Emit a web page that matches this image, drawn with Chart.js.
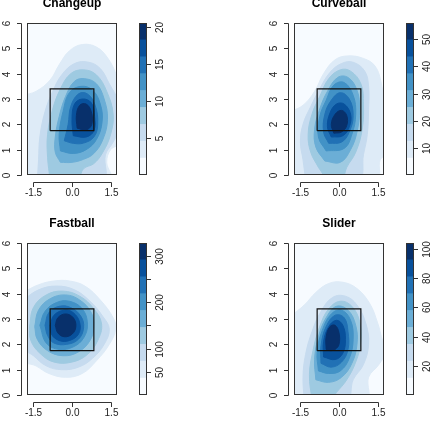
<!DOCTYPE html>
<html>
<head>
<meta charset="utf-8">
<script src="https://cdn.jsdelivr.net/npm/chart.js@4.4.0/dist/chart.umd.min.js"></script>
<style>
html, body { margin: 0; padding: 0; background: #fff; }
#wrap { position: relative; width: 440px; height: 426px; overflow: hidden; }
canvas { position: absolute; }
</style>
</head>
<body>
<div id="wrap"></div>
<script>
// pitch types, one panel each
var pitchNames = ['Changeup', 'Curveball', 'Fastball', 'Slider'];

// colour per density band (lowest first)
var blues = ['#F7FBFF', '#DEEBF7', '#C6DBEF', '#9ECAE1', '#6BAED6', '#4292C6', '#2171B5', '#08519C', '#08306B'];

// density band edges
var changeupLevels = [0, 2.28, 4.56, 6.83, 9.11, 11.39, 13.67, 15.94, 18.22, 20.5];
var curveballLevels = [0, 6.22, 12.44, 18.67, 24.89, 31.11, 37.33, 43.56, 49.78, 56];
var fastballLevels = [0, 36.3, 72.7, 109, 145.3, 181.7, 218, 254.3, 290.7, 327];
var sliderLevels = [0, 11.56, 23.11, 34.67, 46.22, 57.78, 69.33, 80.89, 92.44, 104];

// colour key ticks
var changeupTicks = [5, 10, 15, 20];
var changeupTickLabels = ['5', '10', '15', '20'];
var curveballTicks = [10, 20, 30, 40, 50];
var curveballTickLabels = ['10', '20', '30', '40', '50'];
var fastballTicks = [50, 100, 150, 200, 250, 300];
var fastballTickLabels = ['50', '100', '', '200', '', '300'];
var sliderTicks = [20, 40, 60, 80, 100];
var sliderTickLabels = ['20', '40', '60', '80', '100'];

// plate location axes
var xTicks = [-1.5, 0, 1.5];
var xTickLabels = ['-1.5', '0.0', '1.5'];
var yTicks = [0, 1, 2, 3, 4, 5, 6];
var yTickLabels = ['0', '1', '2', '3', '4', '5', '6'];

// strike zone corners (feet)
var zoneX = [-0.85, 0.85];
var zoneY = [1.75, 3.4];

// contour outlines, band 1 (outer) to band 8 (core), as x,y pairs
var changeupContours = [
  [-1.9,3.15, -1.4,3.3, -0.85,3.75, -0.5,4.35, -0.1,4.9, 0.4,5.15, 0.95,5.05, 1.4,4.6, 1.75,3.9, 1.9,3.4, 1.9,1.3, 1.5,1.0, 1.35,0.5, 1.5,-0.2, -1.9,-0.2],
  [-1.35,-0.2, -1.3,0.6, -1.25,1.5, -1.05,2.5, -0.75,3.3, -0.4,3.95, 0.1,4.4, 0.65,4.45, 1.1,4.2, 1.45,3.6, 1.8,2.9, 1.9,2.0, 1.6,1.3, 1.3,0.8, 1.2,-0.2],
  [-0.85,-0.2, -0.95,0.7, -0.95,1.6, -0.75,2.6, -0.45,3.4, -0.05,4.0, 0.45,4.15, 0.95,3.95, 1.35,3.3, 1.6,2.4, 1.5,1.6, 1.2,0.9, 0.85,0.45, 0.45,0.25, 0.2,-0.2],
  [-0.45,0.5, -0.65,0.9, -0.65,1.5, -0.5,2.3, -0.25,3.1, 0.1,3.7, 0.5,3.8, 0.95,3.6, 1.25,3.0, 1.38,2.2, 1.2,1.4, 0.85,0.85, 0.45,0.62, 0.0,0.5],
  [-0.45,0.95, -0.5,1.6, -0.35,2.5, -0.1,3.25, 0.35,3.5, 0.8,3.35, 1.1,2.8, 1.17,2.1, 0.95,1.4, 0.55,1.0, 0.05,0.85],
  [-0.3,1.35, -0.15,2.0, -0.05,2.7, 0.25,3.2, 0.6,3.2, 0.9,2.75, 1.0,2.0, 0.85,1.5, 0.45,1.26, 0.05,1.25],
  [0.05,1.55, 0.0,2.2, 0.1,2.8, 0.4,3.0, 0.75,2.85, 0.88,2.3, 0.85,1.75, 0.55,1.5],
  [0.2,1.85, 0.17,2.35, 0.3,2.75, 0.55,2.8, 0.75,2.5, 0.77,2.0, 0.55,1.78]
];
var curveballContours = [
  [-1.9,2.5, -1.4,2.75, -0.95,3.3, -0.6,4.0, -0.15,4.55, 0.35,4.7, 0.95,4.6, 1.4,4.3, 1.65,3.6, 1.75,2.8, 1.9,2.0, 1.9,0.9, 1.6,0.6, 1.45,-0.2, -1.9,-0.2],
  [-1.3,-0.2, -1.4,0.6, -1.5,1.3, -1.4,2.0, -1.1,2.7, -0.75,3.4, -0.35,4.05, 0.1,4.4, 0.55,4.45, 1.0,4.1, 1.15,3.5, 1.15,2.6, 1.1,1.6, 0.95,0.8, 0.75,-0.2],
  [-0.8,0.3, -1.1,0.9, -1.2,1.6, -1.05,2.4, -0.75,3.1, -0.4,3.8, 0.05,4.15, 0.45,4.1, 0.85,3.6, 0.95,2.8, 0.9,1.8, 0.65,0.9, 0.3,0.3, 0.1,-0.2, -0.4,-0.2],
  [-0.55,0.55, -0.9,1.1, -0.95,1.8, -0.75,2.6, -0.45,3.3, -0.05,3.85, 0.35,3.85, 0.7,3.35, 0.8,2.6, 0.7,1.7, 0.45,1.0, 0.05,0.5],
  [-0.5,0.95, -0.8,1.5, -0.75,2.3, -0.5,2.95, -0.2,3.55, 0.2,3.65, 0.55,3.15, 0.65,2.4, 0.5,1.6, 0.2,1.05],
  [-0.4,1.25, -0.6,1.7, -0.55,2.4, -0.3,2.95, 0.05,3.25, 0.4,3.0, 0.55,2.35, 0.4,1.7, 0.1,1.3],
  [-0.3,1.5, -0.45,1.9, -0.35,2.45, -0.1,2.8, 0.2,2.8, 0.45,2.4, 0.4,1.9, 0.15,1.55],
  [-0.2,1.65, -0.3,2.0, -0.15,2.4, 0.1,2.55, 0.3,2.35, 0.3,1.95, 0.1,1.7]
];
var fastballContours = [
  [-1.9,4.05, -1.3,4.35, -0.7,4.5, -0.1,4.5, 0.5,4.3, 1.1,3.75, 1.6,3.05, 1.7,2.6, 1.45,2.0, 0.95,1.35, 0.4,0.85, -0.25,0.7, -0.9,0.85, -1.4,1.15, -1.9,1.4],
  [-1.9,3.75, -1.3,4.15, -0.6,4.3, 0.1,4.15, 0.7,3.7, 1.2,3.1, 1.45,2.6, 1.25,2.0, 0.8,1.45, 0.25,1.1, -0.4,1.0, -1.0,1.15, -1.5,1.55, -1.9,1.9],
  [-1.65,2.7, -1.5,3.45, -1.0,3.95, -0.35,4.1, 0.3,3.9, 0.85,3.4, 1.15,2.8, 1.0,2.15, 0.6,1.6, 0.0,1.3, -0.7,1.3, -1.25,1.65, -1.6,2.15],
  [-1.45,2.7, -1.3,3.35, -0.85,3.8, -0.25,3.95, 0.3,3.75, 0.75,3.25, 0.85,2.7, 0.7,2.15, 0.25,1.7, -0.35,1.55, -0.95,1.75, -1.35,2.2],
  [-1.25,2.75, -1.05,3.3, -0.6,3.65, -0.1,3.7, 0.4,3.4, 0.6,2.8, 0.45,2.25, 0.05,1.9, -0.5,1.8, -1.0,2.05],
  [-1.05,2.75, -0.9,3.25, -0.5,3.5, -0.05,3.45, 0.35,3.1, 0.45,2.65, 0.25,2.2, -0.2,2.0, -0.7,2.05, -0.95,2.35],
  [-0.85,2.75, -0.7,3.15, -0.3,3.35, 0.05,3.25, 0.3,2.85, 0.25,2.4, -0.1,2.15, -0.5,2.15, -0.8,2.4],
  [-0.65,2.75, -0.55,3.05, -0.25,3.2, 0.05,3.05, 0.15,2.7, 0.0,2.4, -0.3,2.3, -0.55,2.45]
];
var sliderContours = [
  [-1.9,3.1, -1.35,3.55, -0.9,4.05, -0.4,4.4, 0.15,4.45, 0.7,4.2, 1.2,3.6, 1.5,2.85, 1.65,2.3, 1.8,1.7, 1.55,1.2, 1.15,0.7, 1.05,-0.2, -1.9,-0.2],
  [-1.35,-0.2, -1.4,0.7, -1.3,1.6, -1.05,2.5, -0.7,3.3, -0.25,3.85, 0.25,3.9, 0.7,3.55, 1.05,2.8, 1.15,2.0, 0.95,1.2, 0.55,0.6, 0.3,-0.2],
  [-1.05,-0.2, -1.15,0.8, -1.0,1.8, -0.75,2.7, -0.4,3.4, 0.05,3.7, 0.5,3.5, 0.8,2.9, 0.85,2.1, 0.65,1.3, 0.3,0.6, -0.1,0.1, -0.35,-0.2],
  [-0.9,0.6, -0.95,1.4, -0.8,2.3, -0.5,3.05, -0.1,3.5, 0.35,3.35, 0.65,2.75, 0.7,2.0, 0.5,1.25, 0.1,0.7, -0.4,0.5],
  [-0.8,0.95, -0.85,1.7, -0.65,2.55, -0.3,3.2, 0.1,3.35, 0.45,2.95, 0.55,2.2, 0.4,1.45, 0.05,0.95, -0.4,0.85],
  [-0.7,1.25, -0.7,1.95, -0.5,2.7, -0.15,3.15, 0.2,3.05, 0.35,2.5, 0.35,1.8, 0.1,1.3, -0.3,1.1],
  [-0.6,1.5, -0.6,2.1, -0.4,2.7, -0.1,2.95, 0.15,2.75, 0.25,2.2, 0.15,1.65, -0.15,1.4],
  [-0.5,1.8, -0.5,2.3, -0.35,2.7, -0.15,2.75, 0.0,2.45, 0.0,2.0, -0.15,1.8, -0.35,1.75]
];

var panels = [
  {name: pitchNames[0], contours: changeupContours, levels: changeupLevels, ticks: changeupTicks, labels: changeupTickLabels},
  {name: pitchNames[1], contours: curveballContours, levels: curveballLevels, ticks: curveballTicks, labels: curveballTickLabels},
  {name: pitchNames[2], contours: fastballContours, levels: fastballLevels, ticks: fastballTicks, labels: fastballTickLabels},
  {name: pitchNames[3], contours: sliderContours, levels: sliderLevels, ticks: sliderTicks, labels: sliderTickLabels}
];

var FONT = "'Liberation Sans', Arial, Helvetica, sans-serif";
var INK = '#222';

// R-like frame: background, box and detached axes
var rFrame = {
  id: 'rFrame',
  beforeDatasetsDraw: function (chart, args, opts) {
    if (!opts.bg) return;
    var a = chart.chartArea, ctx = chart.ctx;
    ctx.save();
    ctx.fillStyle = opts.bg;
    ctx.fillRect(a.left, a.top, a.right - a.left, a.bottom - a.top);
    ctx.restore();
  },
  afterDraw: function (chart, args, opts) {
    var a = chart.chartArea, ctx = chart.ctx;
    ctx.save();
    ctx.strokeStyle = '#333';
    ctx.lineWidth = 1;
    ctx.strokeRect(a.left + 0.5, a.top + 0.5, a.right - a.left - 1, a.bottom - a.top - 1);
    ctx.fillStyle = INK;
    ctx.font = '10px ' + FONT;
    ctx.textAlign = 'center';
    ctx.textBaseline = 'middle';
    (opts.axes || []).forEach(function (ax) {
      var sc = chart.scales[ax.scale];
      var pos = ax.ticks.map(function (v) { return Math.round(sc.getPixelForValue(v)) + 0.5; });
      ctx.beginPath();
      if (ax.side === 'bottom') {
        var ly = a.bottom + 7.5;
        ctx.moveTo(pos[0], ly); ctx.lineTo(pos[pos.length - 1], ly);
        pos.forEach(function (p) { ctx.moveTo(p, ly); ctx.lineTo(p, ly + 4.5); });
        ctx.stroke();
        pos.forEach(function (p, i) { ctx.fillText(ax.labels[i], p, a.bottom + 18.5); });
      } else {
        var left = ax.side === 'left';
        var lx = left ? a.left - 5.5 : a.right - 0.5;
        var dir = left ? -1 : 1;
        ctx.moveTo(lx, pos[0]); ctx.lineTo(lx, pos[pos.length - 1]);
        pos.forEach(function (p) { ctx.moveTo(lx, p); ctx.lineTo(lx + dir * 4.5, p); });
        ctx.stroke();
        pos.forEach(function (p, i) {
          if (!ax.labels[i]) return;
          ctx.save();
          ctx.translate(lx + dir * 14, p);
          ctx.rotate(-Math.PI / 2);
          ctx.fillText(ax.labels[i], 0, 0);
          ctx.restore();
        });
      }
    });
    ctx.restore();
  }
};

var wrap = document.getElementById('wrap');
function makeCanvas(left, top, w, h) {
  var c = document.createElement('canvas');
  c.width = w; c.height = h;
  c.style.left = left + 'px'; c.style.top = top + 'px';
  c.style.width = w + 'px'; c.style.height = h + 'px';
  wrap.appendChild(c);
  return c;
}

panels.forEach(function (p, i) {
  var ox = (i % 2) * 267, oy = Math.floor(i / 2) * 220;

  var datasets = p.contours.map(function (flat, k) {
    var pts = [];
    for (var j = 0; j < flat.length; j += 2) pts.push({x: flat[j], y: flat[j + 1]});
    pts.push(pts[0]);
    return {
      data: pts, showLine: true, fill: 'shape', tension: 0.4,
      backgroundColor: blues[k + 1], borderColor: blues[k + 1], borderWidth: 1,
      pointRadius: 0, order: 20 - k
    };
  });
  datasets.push({
    data: [
      {x: zoneX[0], y: zoneY[0]}, {x: zoneX[1], y: zoneY[0]}, {x: zoneX[1], y: zoneY[1]},
      {x: zoneX[0], y: zoneY[1]}, {x: zoneX[0], y: zoneY[0]}
    ],
    showLine: true, fill: false, tension: 0, borderColor: '#111', borderWidth: 1.2,
    pointRadius: 0, order: 0
  });

  new Chart(makeCanvas(ox, oy - 2, 175, 215), {
    type: 'scatter',
    data: {datasets: datasets},
    options: {
      responsive: false, animation: false, devicePixelRatio: 1,
      layout: {padding: {left: 27, right: 58, top: 0, bottom: 38}},
      scales: {
        x: {type: 'linear', min: -1.75, max: 1.75, display: false},
        y: {type: 'linear', min: 0, max: 6, display: false}
      },
      plugins: {
        legend: {display: false}, tooltip: {enabled: false},
        title: {
          display: true, text: p.name, color: '#000',
          font: {family: FONT, size: 12, weight: 'bold', lineHeight: 1},
          padding: {top: 0, bottom: 13}
        },
        rFrame: {
          bg: blues[0],
          axes: [
            {side: 'left', scale: 'y', ticks: yTicks, labels: yTickLabels},
            {side: 'bottom', scale: 'x', ticks: xTicks, labels: xTickLabels}
          ]
        }
      }
    },
    plugins: [rFrame]
  });

  // colour key
  var bands = p.levels.slice(0, -1).map(function (lo, k) {
    return {
      data: [[lo, p.levels[k + 1]]], backgroundColor: blues[k], borderWidth: 0,
      barPercentage: 1, categoryPercentage: 1, grouped: false
    };
  });
  new Chart(makeCanvas(ox + 130, oy, 90, 213), {
    type: 'bar',
    data: {labels: ['level'], datasets: bands},
    options: {
      responsive: false, animation: false, devicePixelRatio: 1,
      layout: {padding: {left: 9, right: 73, top: 23, bottom: 38}},
      scales: {
        x: {display: false},
        y: {display: false, min: p.levels[0], max: p.levels[p.levels.length - 1]}
      },
      plugins: {
        legend: {display: false}, tooltip: {enabled: false},
        rFrame: {axes: [{side: 'right', scale: 'y', ticks: p.ticks, labels: p.labels}]}
      }
    },
    plugins: [rFrame]
  });
});
</script>
</body>
</html>
